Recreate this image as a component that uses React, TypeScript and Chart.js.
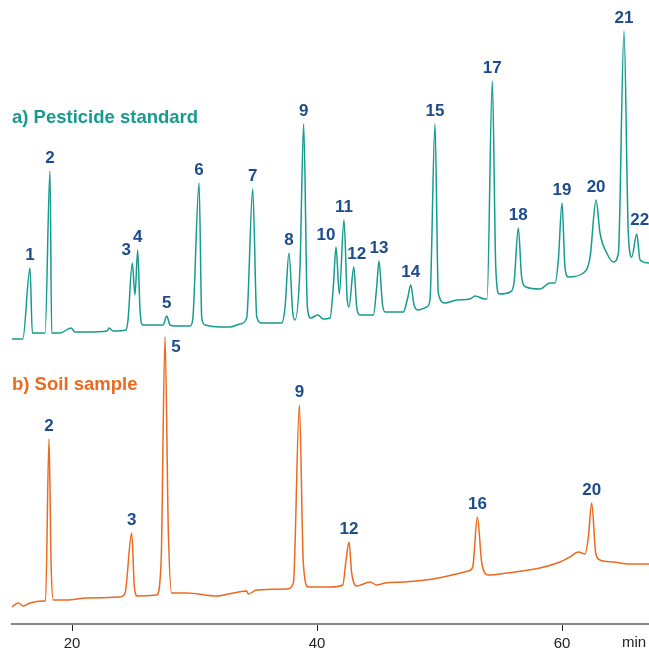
import React, { useEffect, useRef } from "react";
import { Chart, registerables } from "chart.js";

Chart.register(...registerables);

// ---- Data (retention time in min, detector signal in arbitrary units) ----
const TEAL_TIMES = [15.10,15.98,16.57,16.76,17.39,17.80,18.20,18.34,19.02,19.92,20.24,21.22,22.86,23.02,23.35,24.41,24.57,24.92,25.14,25.36,25.55,25.77,26.37,27.43,27.73,28.00,28.41,29.63,29.85,30.37,30.59,30.86,32.08,32.90,33.71,34.26,34.75,35.08,35.49,37.12,37.39,37.71,38.02,38.20,38.61,38.91,39.21,39.49,40.06,40.51,41.06,41.33,41.55,41.82,42.20,42.47,42.61,43.00,43.24,43.51,44.60,44.87,45.06,45.33,45.55,47.04,47.40,47.65,47.92,48.27,48.96,49.22,49.63,49.90,50.45,51.40,52.49,52.90,53.71,53.88,54.31,54.59,54.88,55.76,56.08,56.43,56.71,57.06,58.20,59.02,59.43,59.70,60.00,60.24,60.51,61.74,62.29,62.78,63.10,63.65,64.19,64.60,65.06,65.41,65.69,66.10,66.37,67.10];
const TEAL_SIGNAL = [285,285,356,291,291,291,453,291,291,296,292,292,293,296,293,294,304,361,329,374,314,299,299,299,308,299,298,298,304,441,306,299,297,297,300,306,435,307,301,301,317,371,311,304,357,500,317,306,309,305,306,337,377,330,404,324,317,357,317,309,309,337,363,321,312,312,326,339,319,314,317,324,500,331,321,324,325,328,325,325,543,357,330,332,341,396,346,337,335,341,341,364,421,357,347,351,367,424,391,371,362,371,593,391,367,390,364,361];

const ORANGE_TIMES = [15.08,15.62,16.02,16.57,17.61,17.84,18.12,18.29,18.47,19.57,21.20,23.92,24.33,24.87,25.09,25.33,26.91,27.27,27.59,27.86,28.14,29.36,31.81,33.17,34.26,34.39,35.08,37.53,38.07,38.56,38.88,39.29,41.06,42.10,42.37,42.61,42.83,43.24,44.33,44.87,45.55,47.04,49.49,50.31,52.35,52.71,53.09,53.45,53.98,55.49,58.20,59.84,60.65,61.33,61.88,62.15,62.42,62.75,63.10,64.19,65.55,67.10];
const ORANGE_SIGNAL = [17,21,18,21,23,23,185,61,24,24,26,27,31,91,37,28,29,61,287,94,31,31,28,31,33,30,34,35,41,219,61,37,37,39,64,82,51,38,42,39,41,42,45,47,53,57,107,61,49,51,56,62,67,72,70,87,121,71,64,62,60,60];

const TEAL_PEAK_LABELS = ["1","2","3","4","5","6","7","8","9","10","11","12","13","14","15","17","18","19","20","21","22"];
const TEAL_PEAK_TIMES = [16.57,18.20,24.92,25.36,27.73,30.37,34.75,37.71,38.91,41.55,42.20,43.00,45.06,47.65,49.63,54.31,56.43,60.00,62.78,65.06,66.10];

const ORANGE_PEAK_LABELS = ["2","3","5","9","12","16","20"];
const ORANGE_PEAK_TIMES = [18.12,24.87,27.59,38.56,42.61,53.09,62.42];

const X_TICKS = [20, 40, 60];
const X_UNIT = "min";
const TITLE_A = "a) Pesticide standard";
const TITLE_B = "b) Soil sample";

// ---- Styles ----
const TEAL = "#169b8f";
const ORANGE = "#eb6a1f";
const LABEL_BLUE = "#1c4c8c";
const FONT = '"Liberation Sans", Arial, Helvetica, sans-serif';
// pixel nudges for crowded labels (style only)
const TEAL_NUDGE: Record<string, [number, number]> = {
  "3": [-6, 0],
  "10": [-10, 1],
  "12": [3, 0],
  "22": [3, -1],
};
const ORANGE_NUDGE: Record<string, [number, number]> = {
  "5": [11, 23],
};

const labelPlugin = {
  id: "peakLabels",
  afterDatasetsDraw(chart: any) {
    const { ctx, scales } = chart;
    const xs = scales.x;
    const ys = scales.y;
    ctx.save();
    const drawSet = (
      times: number[],
      signal: number[],
      labels: string[],
      ptimes: number[],
      nudge: Record<string, [number, number]>
    ) => {
      ctx.font = `bold 17px ${FONT}`;
      ctx.fillStyle = LABEL_BLUE;
      ctx.textAlign = "center";
      ctx.textBaseline = "middle";
      labels.forEach((lab, i) => {
        const t = ptimes[i];
        let best = -Infinity;
        times.forEach((tt, j) => {
          if (Math.abs(tt - t) < 0.05 && signal[j] > best) best = signal[j];
        });
        const [dx, dy] = nudge[lab] || [0, 0];
        const px = xs.getPixelForValue(t) + dx;
        const py = ys.getPixelForValue(best) - 13 + dy;
        ctx.fillText(lab, px, py);
      });
    };
    drawSet(TEAL_TIMES, TEAL_SIGNAL, TEAL_PEAK_LABELS, TEAL_PEAK_TIMES, TEAL_NUDGE);
    drawSet(ORANGE_TIMES, ORANGE_SIGNAL, ORANGE_PEAK_LABELS, ORANGE_PEAK_TIMES, ORANGE_NUDGE);

    // titles
    ctx.textAlign = "left";
    ctx.textBaseline = "middle";
    ctx.font = `bold 18.5px ${FONT}`;
    ctx.fillStyle = TEAL;
    ctx.fillText(TITLE_A, 12, 118);
    ctx.fillStyle = ORANGE;
    ctx.fillText(TITLE_B, 12, 385);

    // unit label
    ctx.font = `15px ${FONT}`;
    ctx.fillStyle = "#222";
    ctx.textAlign = "center";
    ctx.fillText(X_UNIT, 634, 643);
    ctx.restore();
  },
};

export default function App() {
  const ref = useRef<HTMLCanvasElement | null>(null);
  useEffect(() => {
    if (!ref.current) return;
    const chart = new Chart(ref.current, {
      type: "line",
      data: {
        datasets: [
          {
            data: TEAL_TIMES.map((t, i) => ({ x: t, y: TEAL_SIGNAL[i] })),
            borderColor: TEAL,
            borderWidth: 1.5,
            pointRadius: 0,
            cubicInterpolationMode: "monotone",
          },
          {
            data: ORANGE_TIMES.map((t, i) => ({ x: t, y: ORANGE_SIGNAL[i] })),
            borderColor: ORANGE,
            borderWidth: 1.5,
            pointRadius: 0,
            cubicInterpolationMode: "monotone",
          },
        ],
      },
      options: {
        animation: false,
        responsive: true,
        maintainAspectRatio: false,
        layout: { padding: { left: 12, right: 0, top: 0, bottom: 0 } },
        plugins: { legend: { display: false }, tooltip: { enabled: false } },
        scales: {
          x: {
            type: "linear",
            min: 15.1,
            max: 67.1,
            afterBuildTicks: (s: any) => {
              s.ticks = X_TICKS.map((v) => ({ value: v }));
            },
            afterFit: (s: any) => {
              s.height = 28;
            },
            ticks: {
              autoSkip: false,
              maxRotation: 0,
              padding: 4,
              color: "#222",
              font: { size: 15, family: FONT },
              callback: (v: any) => String(v),
            },
            grid: {
              display: true,
              drawOnChartArea: false,
              drawTicks: true,
              tickLength: 7,
              tickColor: "#222",
              tickWidth: 1,
            },
            border: { display: true, color: "#858585", width: 2 },
          },
          y: {
            display: false,
            min: 0,
            max: 624,
          },
        },
      },
      plugins: [labelPlugin],
    } as any);
    return () => chart.destroy();
  }, []);
  return (
    <div style={{ position: "absolute", left: 0, top: 0, width: 649, height: 652 }}>
      <canvas ref={ref} />
    </div>
  );
}
